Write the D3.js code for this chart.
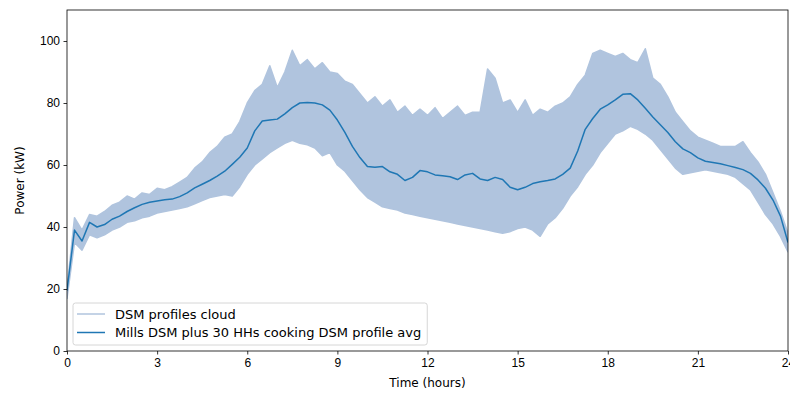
<!DOCTYPE html>
<html>
<head>
<meta charset="utf-8">
<script src="https://cdn.jsdelivr.net/npm/d3@7"></script>
<style>
  body { margin: 0; background: #fff; }
  svg { display: block; font-family: "DejaVu Sans", sans-serif; }
  .tick text { font-size: 12px; fill: #000; }
  .axis-label { font-size: 12px; fill: #000; }
  .legend-text { font-size: 13px; fill: #000; }
</style>
</head>
<body>
<div id="chart"></div>
<script>
// quarter-hour samples, 00:00 .. 24:00
const stepHours = 0.25;

// upper edge of the DSM profile cloud (kW)
const cloudMax = [
  20, 43, 39, 44, 43.5, 45, 47, 48, 50, 49, 51, 50.5,
  52.5, 52, 53, 54.5, 56, 59, 61, 64, 66, 69, 70, 74,
  80, 84, 86, 92, 85, 90, 97, 92, 94, 91, 93, 90,
  89.5, 87, 86, 83, 80, 82, 79, 81, 77, 79, 76, 78,
  76, 78.5, 75, 77, 79, 76, 77, 77, 91, 88, 80, 81,
  77, 81, 76, 78, 77, 79, 80, 82, 86, 89, 96, 97,
  96, 95, 96, 94, 93, 97.5, 88, 86, 82, 77, 74, 71,
  69, 68, 67, 66, 66, 66, 67.5, 64, 61, 57, 51, 45,
  38
];

// lower edge of the DSM profile cloud (kW)
const cloudMin = [
  17, 35, 32.5, 37.5, 36.5, 37.5, 39, 40, 41.5, 42, 43, 43.5,
  44.5, 45, 45.5, 46, 46.5, 47.5, 48.5, 49.5, 50, 50.5, 50, 53,
  57, 60, 62, 64, 65.5, 67, 68, 67, 66.5, 65.5, 63, 64,
  60, 58, 55, 52, 49.5, 48, 46.5, 46, 45.5, 44.5, 44, 43.5,
  43, 42.5, 42, 41.5, 41, 40.5, 40, 39.5, 39, 38.5, 38, 38.5,
  39.5, 40, 39, 37, 41, 43, 46, 50, 53, 57, 60, 64,
  67, 70, 71, 72.5, 71.5, 70, 68, 65, 62, 59, 57, 57.5,
  58, 58.5, 58, 57.5, 57, 56, 54, 52, 48, 44, 41, 37,
  32
];

// Mills DSM plus 30 HHs cooking DSM profile avg (kW)
const avgProfile = [
  19.5, 39, 35.5, 41.5, 40, 40.8, 42.5, 43.5, 45, 46.2, 47.3, 48,
  48.4, 48.8, 49, 49.8, 51, 52.6, 53.8, 55, 56.4, 58, 60.2, 62.5,
  65.5, 71, 74.2, 74.5, 74.8, 76.5, 78.5, 80, 80.2, 80, 79.4, 77.7,
  74.5, 70.5, 66, 62.4, 59.5, 59.3, 59.5, 57.8, 57, 55, 56, 58.2,
  57.8, 56.8, 56.5, 56.2, 55.3, 56.8, 57.3, 55.5, 55, 56, 55.3, 52.8,
  52, 52.8, 54, 54.6, 55, 55.5, 57, 59, 64.5, 71.5, 75, 78,
  79.4, 81, 82.8, 83, 81, 78.3, 75.5, 73, 70.5, 67.5, 65.2, 64,
  62.3, 61.2, 60.8, 60.4, 59.8, 59.2, 58.5, 57.3, 55.2, 52.5, 48.7, 43.5,
  35
];

const xTicks = [0, 3, 6, 9, 12, 15, 18, 21, 24];
const yTicks = [0, 20, 40, 60, 80, 100];
const legendLabels = ['DSM profiles cloud', 'Mills DSM plus 30 HHs cooking DSM profile avg'];

const config = {
  width: 790,
  height: 394,
  margin: {top: 10, right: 2, bottom: 43, left: 67},
  cloudColor: '#b0c4de',
  avgColor: '#1f77b4'
};

const innerW = config.width - config.margin.left - config.margin.right;
const innerH = config.height - config.margin.top - config.margin.bottom;

const svg = d3.select('#chart').append('svg')
    .attr('width', config.width)
    .attr('height', config.height);

const chart = svg.append('g')
    .attr('transform', `translate(${config.margin.left},${config.margin.top})`);

const xScale = d3.scaleLinear().domain([0, 24]).range([0, innerW]);
const yScale = d3.scaleLinear().domain([0, 110]).range([innerH, 0]);

svg.append('defs').append('clipPath').attr('id', 'plot-clip')
  .append('rect').attr('width', innerW).attr('height', innerH);

const plot = chart.append('g').attr('clip-path', 'url(#plot-clip)');

const cloudData = cloudMax.map((v, i) => ({t: i * stepHours, hi: v, lo: cloudMin[i]}));
const avgData = avgProfile.map((v, i) => ({t: i * stepHours, v: v}));

const cloudArea = d3.area()
    .x(d => xScale(d.t))
    .y0(d => yScale(d.lo))
    .y1(d => yScale(d.hi));

plot.append('path')
    .datum(cloudData)
    .attr('d', cloudArea)
    .attr('fill', config.cloudColor)
    .attr('stroke', config.cloudColor)
    .attr('stroke-width', 1.5)
    .attr('stroke-linejoin', 'round');

const avgLine = d3.line()
    .x(d => xScale(d.t))
    .y(d => yScale(d.v));

plot.append('path')
    .datum(avgData)
    .attr('d', avgLine)
    .attr('fill', 'none')
    .attr('stroke', config.avgColor)
    .attr('stroke-width', 1.5)
    .attr('stroke-linejoin', 'round');

// axes
const xAxis = chart.append('g')
    .attr('transform', `translate(0,${innerH})`)
    .call(d3.axisBottom(xScale).tickValues(xTicks).tickSize(3.5).tickPadding(3.5).tickFormat(d3.format('d')));

const yAxis = chart.append('g')
    .call(d3.axisLeft(yScale).tickValues(yTicks).tickSize(3.5).tickPadding(3.5).tickFormat(d3.format('d')));

[xAxis, yAxis].forEach(a => {
  a.select('.domain').remove();
  a.selectAll('.tick line').attr('stroke', '#000').attr('stroke-width', 0.8);
});

chart.append('rect')
    .attr('width', innerW)
    .attr('height', innerH)
    .attr('fill', 'none')
    .attr('stroke', '#000')
    .attr('stroke-width', 0.8);

svg.append('text')
    .attr('class', 'axis-label')
    .attr('text-anchor', 'middle')
    .attr('x', config.margin.left + innerW / 2)
    .attr('y', 387)
    .text('Time (hours)');

svg.append('text')
    .attr('class', 'axis-label')
    .attr('text-anchor', 'middle')
    .attr('transform', `translate(24,${config.margin.top + innerH / 2}) rotate(-90)`)
    .text('Power (kW)');

// legend
const legend = chart.append('g')
    .attr('transform', `translate(6,${innerH - 48})`);

const legendBox = legend.append('rect')
    .attr('x', 0).attr('y', 0)
    .attr('height', 42)
    .attr('rx', 2.5)
    .attr('fill', '#fff')
    .attr('fill-opacity', 0.8)
    .attr('stroke', '#cccccc')
    .attr('stroke-width', 0.8);

const items = legend.selectAll('g.item')
    .data(legendLabels)
    .join('g')
    .attr('class', 'item')
    .attr('transform', (d, i) => `translate(0,${11 + i * 18.5})`);

items.append('line')
    .attr('x1', 4).attr('x2', 32)
    .attr('stroke', (d, i) => i === 0 ? config.cloudColor : config.avgColor)
    .attr('stroke-width', 1.5);

items.append('text')
    .attr('class', 'legend-text')
    .attr('x', 42)
    .attr('dy', '0.35em')
    .text(d => d);

const textW = d3.max(items.selectAll('text').nodes(), n => n.getComputedTextLength());
legendBox.attr('width', 42 + textW + 6);
</script>
</body>
</html>
